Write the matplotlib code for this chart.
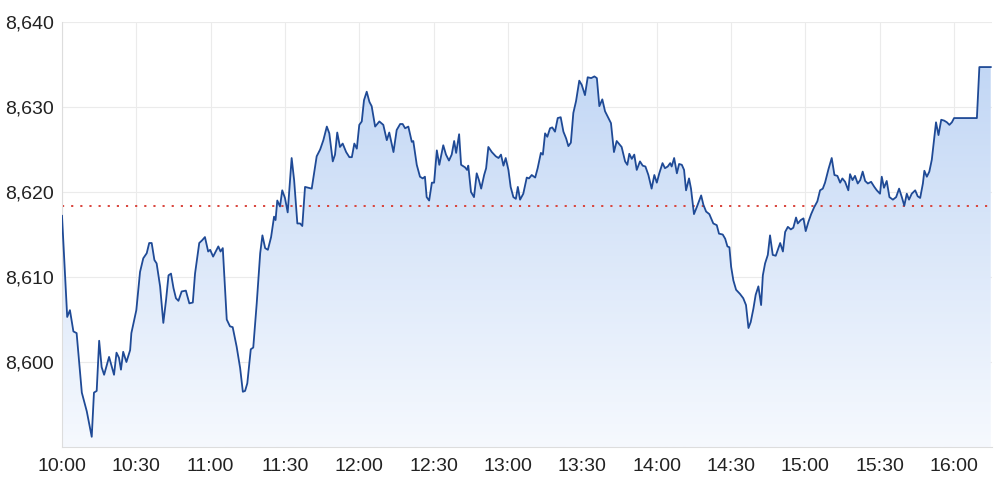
import numpy as np
import matplotlib.pyplot as plt
from matplotlib.colors import LinearSegmentedColormap

# minutes after 10:00 and index level
minutes = [0, 2.1, 3.2, 4.6, 5.9, 8, 10, 12, 12.9, 14, 15, 16, 17, 19, 21, 22, 23, 23.8, 24.7, 26,
           27.5, 28, 30, 31.5, 32.8, 34.2, 35.2, 36.2, 37.3, 38.2, 39.6, 40.9, 42, 43, 44, 45, 46, 47,
           48.3, 50, 51.4, 52.8, 53.7, 55.4, 56.5, 57.7, 59, 59.8, 61, 63.1, 64, 64.9, 66.5, 67.8,
           68.9, 70.5, 71.9, 73, 73.9, 74.8, 76.2, 77.2, 78.6, 80, 80.9, 82, 83.1, 84.4, 85.6, 86.2,
           86.9, 88, 88.9, 90, 91.1, 92.7, 93.7, 95, 96.1, 97, 98.1, 99.4, 100.8, 102.8, 104.2, 105.5,
           106.9, 107.9, 109.3, 110.2, 111.1, 112.2, 113.3, 114.7, 116, 117, 118, 119, 120, 121,
           121.9, 123, 124.1, 125, 126.4, 128.1, 129.7, 131.1, 132.1, 133.8, 135.1, 136.5, 137.5,
           138.5, 139.8, 141.2, 141.8, 143.2, 144.5, 145.6, 146.5, 147.2, 148.2, 149.3, 150.2, 151.3,
           152.3, 153.9, 155, 156.2, 157.3, 158.3, 159.1, 160.3, 161.1, 162.7, 163.5, 164, 165.1,
           166.3, 167.4, 168.3, 169.2, 170.4, 171.2, 172.1, 173.5, 175.1, 176.2, 177.2, 178.2, 179.1,
           180.2, 181.1, 182.2, 183.2, 184, 184.9, 186.2, 187.6, 188.5, 189.6, 191, 192, 193.3, 194.1,
           195, 195.9, 197, 197.9, 199, 200.1, 201.3, 202.4, 203.5, 204.4, 205.4, 206.4, 207.5, 208.8,
           209.8, 211.1, 212.2, 213.6, 214.9, 215.9, 216.9, 218.1, 219.2, 220.4, 221.6, 222.8, 223.9,
           225.9, 227.3, 228.2, 229, 230, 231, 232, 233.3, 234.4, 235.5, 236.7, 238, 239.1, 240.1,
           241.1, 242.4, 243.4, 244.5, 245.5, 246.1, 247.1, 248.2, 249.1, 250.2, 251.1, 251.9, 253.1,
           253.9, 255.1, 256.2, 258, 258.9, 260, 261.3, 262.9, 264.3, 265.2, 266.7, 267.7, 268.6,
           269.4, 270.1, 271, 272.1, 273.7, 275, 276.1, 277.1, 278, 279.1, 280, 281.1, 282.2, 282.9,
           283.8, 284.9, 285.8, 286.9, 288.1, 289.2, 289.9, 291, 291.9, 293, 294.2, 295.2, 296.3, 297,
           298.2, 299.3, 300.2, 301.3, 302.4, 303.6, 304.9, 306, 307.1, 308, 309.4, 310.7, 311.8, 313,
           314.1, 315, 316.1, 317.4, 318.1, 319.1, 320.1, 321.2, 322.2, 323.2, 324.2, 325.3, 326.6,
           327.9, 328.9, 330.2, 330.9, 331.8, 332.9, 334, 335.4, 336.7, 337.9, 339, 340, 341, 341.9,
           343, 344.4, 345.4, 346.4, 347.5, 348.1, 349.1, 350.1, 351.1, 352, 352.8, 353.8, 354.9,
           356.1, 357.2, 358.2, 359.2, 360.1, 369.3, 370.3, 374.9]

prices = [8617.2, 8605.3, 8606.1, 8603.6, 8603.4, 8596.4, 8594.2, 8591.2, 8596.4, 8596.6, 8602.5,
          8599.4, 8598.5, 8600.6, 8598.5, 8601.1, 8600.5, 8599.1, 8601.2, 8600.0, 8601.4, 8603.4,
          8606.1, 8610.6, 8612.2, 8612.8, 8614.0, 8614.0, 8612.0, 8611.6, 8608.9, 8604.6, 8607.3,
          8610.2, 8610.4, 8608.7, 8607.5, 8607.2, 8608.3, 8608.4, 8606.9, 8607.0, 8610.4, 8614.0,
          8614.3, 8614.7, 8613.0, 8613.2, 8612.4, 8613.6, 8613.0, 8613.4, 8605.0, 8604.2, 8604.1,
          8601.8, 8599.3, 8596.5, 8596.6, 8597.5, 8601.5, 8601.7, 8606.9, 8612.8, 8614.9, 8613.4,
          8613.2, 8614.7, 8617.1, 8616.7, 8619.0, 8618.3, 8620.2, 8619.3, 8617.6, 8624.0, 8621.4,
          8616.3, 8616.3, 8616.0, 8620.6, 8620.5, 8620.4, 8624.2, 8625.0, 8626.1, 8627.7, 8626.9,
          8623.6, 8624.4, 8627.0, 8625.3, 8625.7, 8624.7, 8624.1, 8624.1, 8625.7, 8625.1, 8627.9,
          8628.3, 8630.8, 8631.8, 8630.6, 8630.1, 8627.7, 8628.3, 8627.9, 8626.1, 8627.0, 8624.7,
          8627.3, 8628.0, 8628.0, 8627.5, 8627.7, 8625.9, 8626.0, 8623.2, 8621.8, 8621.6, 8621.8,
          8619.4, 8619.0, 8621.1, 8621.1, 8624.9, 8623.2, 8625.5, 8624.4, 8623.7, 8624.4, 8626.0,
          8624.6, 8626.8, 8623.2, 8622.9, 8622.6, 8623.1, 8620.0, 8619.4, 8622.2, 8621.4, 8620.4,
          8622.0, 8622.8, 8625.3, 8624.7, 8624.2, 8624.0, 8624.4, 8623.1, 8624.0, 8622.6, 8620.6,
          8619.4, 8619.2, 8620.6, 8619.1, 8619.8, 8621.7, 8621.6, 8622.0, 8621.7, 8622.8, 8624.6,
          8624.4, 8626.9, 8626.5, 8627.5, 8627.6, 8627.1, 8628.7, 8628.8, 8627.1, 8626.3, 8625.4,
          8625.8, 8629.3, 8630.7, 8633.1, 8632.6, 8631.4, 8633.5, 8633.4, 8633.6, 8633.4, 8630.1,
          8630.9, 8629.5, 8628.8, 8628.1, 8624.7, 8626.0, 8625.3, 8623.6, 8623.2, 8624.5, 8623.9,
          8624.4, 8622.6, 8623.6, 8623.1, 8623.0, 8622.0, 8620.4, 8622.0, 8621.1, 8622.2, 8623.4,
          8622.8, 8623.0, 8623.4, 8623.0, 8624.0, 8622.2, 8623.3, 8623.2, 8622.6, 8620.2, 8621.6,
          8620.4, 8617.4, 8618.2, 8619.6, 8618.5, 8617.7, 8617.4, 8616.3, 8616.1, 8615.1, 8615.0,
          8614.5, 8613.6, 8613.5, 8611.2, 8609.6, 8608.5, 8608.0, 8607.5, 8606.7, 8604.0, 8604.7,
          8606.3, 8607.9, 8608.9, 8606.7, 8610.2, 8611.6, 8612.6, 8614.9, 8612.6, 8612.5, 8613.4,
          8614.0, 8613.0, 8615.3, 8615.9, 8615.6, 8615.8, 8617.0, 8616.3, 8616.7, 8616.9, 8615.4,
          8616.5, 8617.4, 8618.2, 8618.9, 8620.2, 8620.4, 8621.1, 8622.7, 8624.0, 8622.0, 8621.9,
          8621.1, 8621.6, 8621.2, 8620.2, 8622.1, 8621.4, 8621.9, 8621.0, 8621.4, 8622.4, 8621.3,
          8621.0, 8621.2, 8620.6, 8620.2, 8619.8, 8621.8, 8620.5, 8621.3, 8619.4, 8619.1, 8619.4,
          8620.4, 8619.4, 8618.4, 8619.8, 8619.1, 8619.8, 8620.2, 8619.5, 8619.3, 8621.0, 8622.5,
          8621.8, 8622.4, 8623.8, 8626.1, 8628.2, 8626.7, 8628.5, 8628.4, 8628.2, 8627.9, 8628.2,
          8628.7, 8628.7, 8634.7, 8634.7]

prev_close = 8618.4
tick_minutes = [0, 30, 60, 90, 120, 150, 180, 210, 240, 270, 300, 330, 360]
tick_labels = ['10:00', '10:30', '11:00', '11:30', '12:00', '12:30', '13:00',
               '13:30', '14:00', '14:30', '15:00', '15:30', '16:00']
y_ticks = [8600, 8610, 8620, 8630, 8640]

plt.rcParams['font.family'] = ['Liberation Sans', 'DejaVu Sans']

fig = plt.figure(figsize=(10, 4.87), dpi=100)
ax = fig.add_axes([0.062, 0.0821, 0.930, 0.8727])

x = np.array(minutes)
y = np.array(prices)
ymin, ymax = 8590, 8640
xmax = 375.4

# gradient fill under the line
poly = ax.fill_between(x, y, ymin, color='none', lw=0)
cmap = LinearSegmentedColormap.from_list('g', ['#f6f9fe', '#bcd3f4'])
grad = np.linspace(0, 1, 256).reshape(-1, 1)
img = ax.imshow(grad, cmap=cmap, aspect='auto', origin='lower',
                extent=[0, xmax, ymin, ymax], zorder=1)
img.set_clip_path(poly.get_paths()[0], transform=ax.transData)

ax.plot(x, y, color='#1f4a96', lw=1.3, zorder=3)
ax.axhline(prev_close, color='#d9433b', lw=1.4, linestyle=(0, (1.1, 3.6)), zorder=2)

ax.set_xlim(0, xmax)
ax.set_ylim(ymin, ymax)
ax.set_xticks(tick_minutes)
ax.set_xticklabels(tick_labels)
ax.set_yticks(y_ticks)
ax.set_yticklabels([f'{v:,}' for v in y_ticks])
ax.grid(True, color='#ebebeb', lw=0.8, zorder=0)
ax.set_axisbelow(True)
ax.tick_params(length=0, labelsize=14, colors='#222222')
ax.tick_params(axis='x', pad=8)
ax.tick_params(axis='y', pad=6)

for s in ['top', 'right']:
    ax.spines[s].set_visible(False)
for s in ['left', 'bottom']:
    ax.spines[s].set_color('#dddddd')
    ax.spines[s].set_linewidth(0.8)

fig.savefig('out.png', dpi=100)
